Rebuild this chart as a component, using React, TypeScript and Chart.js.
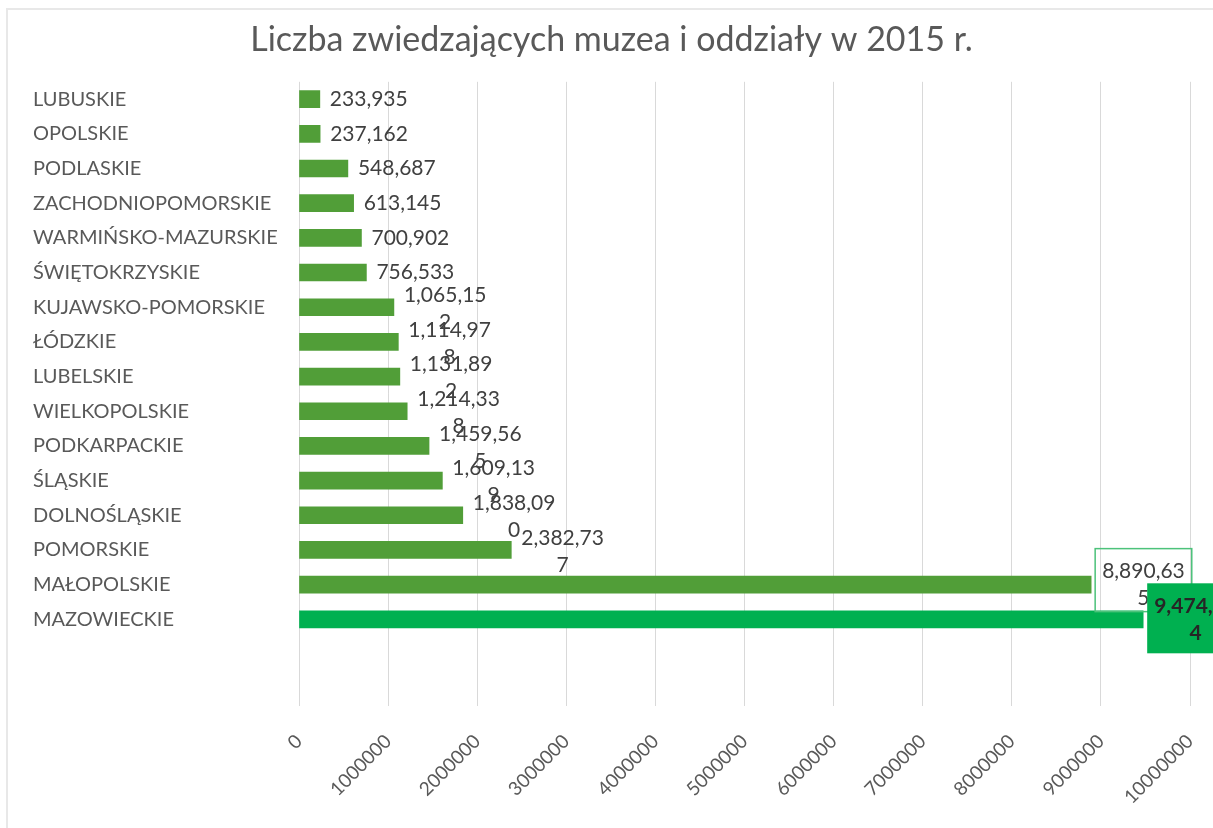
import React, { useEffect, useRef } from "react";
import { Chart, registerables } from "chart.js";

Chart.register(...registerables);

const TITLE = "Liczba zwiedzających muzea i oddziały w 2015 r.";

const categories = [
  "LUBUSKIE",
  "OPOLSKIE",
  "PODLASKIE",
  "ZACHODNIOPOMORSKIE",
  "WARMIŃSKO-MAZURSKIE",
  "ŚWIĘTOKRZYSKIE",
  "KUJAWSKO-POMORSKIE",
  "ŁÓDZKIE",
  "LUBELSKIE",
  "WIELKOPOLSKIE",
  "PODKARPACKIE",
  "ŚLĄSKIE",
  "DOLNOŚLĄSKIE",
  "POMORSKIE",
  "MAŁOPOLSKIE",
  "MAZOWIECKIE",
  "",
  "",
];

const visitors: (number | null)[] = [
  233935, 237162, 548687, 613145, 700902, 756533, 1065152, 1114978, 1131892,
  1214338, 1459565, 1609139, 1838090, 2382737, 8890635, 9474594, null, null,
];

const xTicks = [0, 1000000, 2000000, 3000000, 4000000, 5000000, 6000000, 7000000, 8000000, 9000000, 10000000];

const barColors = categories.map((c) => (c === "MAZOWIECKIE" ? "#00B050" : "#519E38"));
// label style: 0 plain, 1 outlined box, 2 filled box
const labelStyle = categories.map((c) => (c === "MAŁOPOLSKIE" ? 1 : c === "MAZOWIECKIE" ? 2 : 0));

const FONT = "Lato, 'Open Sans', sans-serif";

const framePlugin = {
  id: "frame",
  beforeDraw(chart: any) {
    const ctx = chart.ctx;
    ctx.save();
    ctx.fillStyle = "#ffffff";
    ctx.fillRect(0, 0, chart.width, chart.height);
    ctx.strokeStyle = "#E8E8E8";
    ctx.lineWidth = 2;
    ctx.beginPath();
    ctx.moveTo(7, chart.height);
    ctx.lineTo(7, 9);
    ctx.lineTo(chart.width, 9);
    ctx.stroke();
    ctx.restore();
  },
};

const labelPlugin = {
  id: "barLabels",
  afterDatasetsDraw(chart: any) {
    const ctx = chart.ctx;
    const meta = chart.getDatasetMeta(0);
    ctx.save();
    meta.data.forEach((bar: any, i: number) => {
      const v = visitors[i];
      if (v == null) return;
      const s = v.toLocaleString("en-US");
      const lines = s.length > 8 ? [s.slice(0, 8), s.slice(8)] : [s];
      const st = labelStyle[i];
      ctx.font = (st === 2 ? "bold " : "") + "21px " + FONT;
      const w = ctx.measureText(lines[0]).width;
      const cy = bar.y;
      ctx.textBaseline = "middle";
      ctx.textAlign = "center";
      if (st === 0) {
        const left = bar.x + 10;
        ctx.fillStyle = "#404040";
        if (lines.length === 1) {
          ctx.fillText(lines[0], left + w / 2, cy);
        } else {
          ctx.fillText(lines[0], left + w / 2, cy - 12);
          ctx.fillText(lines[1], left + w / 2, cy + 15);
        }
      } else {
        const bx = bar.x + 4;
        const bw = w + 14;
        const by = cy - 36;
        const bh = 70;
        if (st === 1) {
          ctx.strokeStyle = "#4CC27A";
          ctx.lineWidth = 1.5;
          ctx.strokeRect(bx, by, bw, bh - 7);
        } else {
          ctx.fillStyle = "#00B050";
          ctx.fillRect(bx, by, bw + 30, bh);
        }
        ctx.fillStyle = st === 2 ? "#262626" : "#404040";
        ctx.fillText(lines[0], bx + 7 + w / 2, cy - 13);
        if (lines[1]) ctx.fillText(lines[1], bx + 7 + w / 2, cy + 14);
      }
    });
    ctx.restore();
  },
};

export default function App() {
  const ref = useRef<HTMLCanvasElement | null>(null);
  useEffect(() => {
    if (!ref.current) return;
    const chart = new Chart(ref.current, {
      type: "bar",
      data: {
        labels: categories,
        datasets: [
          {
            data: visitors,
            backgroundColor: barColors,
            barThickness: 17,
          },
        ],
      },
      options: {
        indexAxis: "y",
        animation: false,
        responsive: true,
        maintainAspectRatio: false,
        layout: { padding: { left: 33, right: 23, top: 0, bottom: 0 } },
        plugins: {
          legend: { display: false },
          tooltip: { enabled: false },
          title: {
            display: true,
            text: TITLE,
            color: "#595959",
            font: { family: FONT, size: 34, weight: "normal", lineHeight: 1.2 },
            padding: { top: 20, bottom: 21 },
          },
        },
        scales: {
          x: {
            type: "linear",
            min: 0,
            max: 10000000,
            afterBuildTicks: (scale: any) => {
              scale.ticks = xTicks.map((v) => ({ value: v }));
            },
            afterFit: (scale: any) => {
              scale.height = 122;
              scale.paddingRight = 0;
              scale.paddingLeft = 0;
            },
            grid: { color: "#D9D9D9", drawTicks: false, lineWidth: 1 },
            border: { display: false },
            ticks: {
              color: "#595959",
              font: { family: FONT, size: 19 },
              minRotation: 45,
              maxRotation: 45,
              padding: 24,
              autoSkip: false,
              callback: (v: any) => String(v),
            },
          },
          y: {
            type: "category",
            afterFit: (scale: any) => {
              scale.width = 266;
            },
            grid: { display: false },
            border: { display: false },
            ticks: {
              color: "#595959",
              font: { family: FONT, size: 20 },
              crossAlign: "far",
              autoSkip: false,
            },
          },
        },
      },
      plugins: [framePlugin, labelPlugin],
    });
    return () => chart.destroy();
  }, []);
  return (
    <div style={{ position: "fixed", left: 0, top: 0, width: 1213, height: 828 }}>
      <canvas ref={ref} />
    </div>
  );
}
